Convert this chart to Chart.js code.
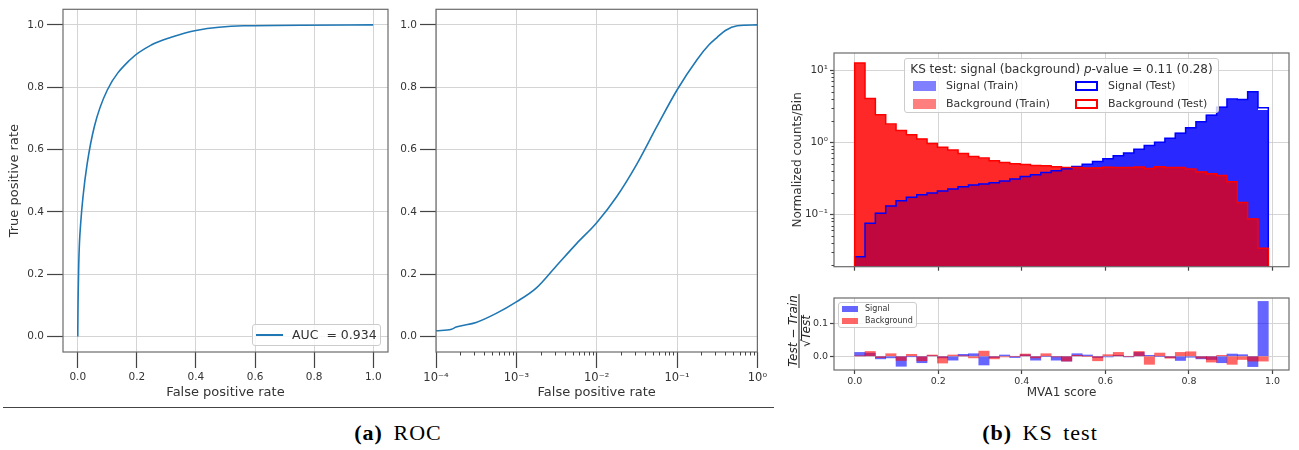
<!DOCTYPE html>
<html>
<head>
<meta charset="utf-8">
<script src="https://cdn.jsdelivr.net/npm/chart.js@4.4.1/dist/chart.umd.min.js"></script>
<style>
  body { margin: 0; width: 1299px; height: 450px; background: #fff; position: relative; overflow: hidden; font-family: 'DejaVu Sans', sans-serif; color: #333; }
  canvas { position: absolute; }
  .abs { position: absolute; white-space: pre; }
  .legend { position: absolute; background: rgba(255,255,255,0.8); border: 1px solid #cccccc; border-radius: 3px; box-sizing: border-box; }
  .caption { position: absolute; top: 420px; font-family: 'Liberation Serif', serif; font-size: 22px; color: #000; letter-spacing: 1px; word-spacing: 4px; transform: translateX(-50%); white-space: nowrap; }
</style>
</head>
<body>
<canvas id="rocLin" width="390" height="400" style="left:0;top:0"></canvas>
<canvas id="rocLog" width="380" height="400" style="left:390px;top:0"></canvas>
<canvas id="ksHist" width="515" height="235" style="left:780px;top:40px"></canvas>
<canvas id="ksRatio" width="515" height="115" style="left:780px;top:285px"></canvas>

<!-- AUC legend -->
<div class="legend" style="left:252px;top:324px;width:129px;height:22px"></div>
<div class="abs" style="left:256px;top:334px;width:27px;height:1.6px;background:#1f77b4"></div>
<div class="abs" style="left:292px;top:326px;font-size:12.5px;line-height:18px">AUC  = 0.934</div>

<!-- KS legend -->
<div class="legend" style="left:904px;top:58px;width:315px;height:55px"></div>
<div class="abs" style="left:904px;top:61px;width:315px;text-align:center;font-size:12px;line-height:16px">KS test: signal (background) <i>p</i>-value = 0.11 (0.28)</div>
<div class="abs" style="left:913px;top:81px;width:23px;height:10px;background:rgba(0,0,255,0.5)"></div>
<div class="abs" style="left:913px;top:98.5px;width:23px;height:10px;background:rgba(255,0,0,0.5)"></div>
<div class="abs" style="left:1075px;top:81px;width:23px;height:10px;border:2px solid #0000ff;box-sizing:border-box;background:#fff"></div>
<div class="abs" style="left:1075px;top:98.5px;width:23px;height:10px;border:2px solid #ff0000;box-sizing:border-box;background:#fff"></div>
<div class="abs" style="left:946px;top:78px;font-size:11px;line-height:16px">Signal (Train)</div>
<div class="abs" style="left:946px;top:95.5px;font-size:11px;line-height:16px">Background (Train)</div>
<div class="abs" style="left:1108px;top:78px;font-size:11px;line-height:16px">Signal (Test)</div>
<div class="abs" style="left:1108px;top:95.5px;font-size:11px;line-height:16px">Background (Test)</div>

<!-- ratio legend -->
<div class="legend" style="left:838px;top:302px;width:79px;height:26px"></div>
<div class="abs" style="left:842px;top:306px;width:16px;height:6px;background:rgba(0,0,255,0.6)"></div>
<div class="abs" style="left:842px;top:317.5px;width:16px;height:6px;background:rgba(255,0,0,0.6)"></div>
<div class="abs" style="left:865px;top:303px;font-size:8px;line-height:12px">Signal</div>
<div class="abs" style="left:865px;top:314.5px;font-size:8px;line-height:12px">Background</div>

<div class="abs" style="left:3px;top:406.5px;width:771px;height:1.3px;background:#444"></div>
<div class="caption" style="left:398px"><b>(a)</b> ROC</div>
<div class="caption" style="left:1040px"><b>(b)</b> KS test</div>

<script>
// ROC curve (false positive rate, true positive rate)
const rocFpr = [0, 1e-4, 1.56e-4, 1.78e-4, 3.16e-4, 5.62e-4, 1e-3, 1.78e-3, 3.16e-3, 5.62e-3, 1e-2,
    1.78e-2, 3.16e-2, 5.62e-2, 0.1, 0.178, 0.25, 0.316, 0.4, 0.562, 1.0];
const rocTpr = [0, 0.018, 0.023, 0.030, 0.045, 0.074, 0.111, 0.156, 0.227, 0.298, 0.365,
    0.449, 0.553, 0.674, 0.791, 0.889, 0.936, 0.960, 0.982, 0.997, 1.0];

const rateTicks = [0, 0.2, 0.4, 0.6, 0.8, 1.0];
const logTicks = [1e-4, 1e-3, 1e-2, 1e-1, 1];
const logTickLabels = ['10⁻⁴', '10⁻³', '10⁻²', '10⁻¹', '10⁰'];

// MVA1 score histograms, 40 bins
const nBins = 40, scoreLo = 0, scoreHi = 0.99;
const sigTrain = [0.0255, 0.0745, 0.105, 0.132, 0.156, 0.173, 0.188, 0.198, 0.212, 0.225,
    0.240, 0.255, 0.265, 0.275, 0.290, 0.310, 0.335, 0.355, 0.380, 0.405,
    0.430, 0.460, 0.495, 0.540, 0.590, 0.650, 0.710, 0.800, 0.900, 1.00,
    1.15, 1.35, 1.60, 1.95, 2.40, 3.10, 3.95, 3.90, 5.10, 2.80];
const sigTest = [0.0258, 0.0750, 0.104, 0.131, 0.155, 0.173, 0.187, 0.198, 0.211, 0.224,
    0.241, 0.256, 0.263, 0.274, 0.291, 0.309, 0.336, 0.353, 0.380, 0.403,
    0.428, 0.462, 0.496, 0.539, 0.589, 0.651, 0.709, 0.803, 0.901, 1.00,
    1.14, 1.33, 1.59, 1.93, 2.37, 3.05, 3.97, 3.91, 5.02, 3.00];
const bkgTrain = [12.6, 4.00, 2.42, 1.78, 1.47, 1.26, 1.12, 0.960, 0.860, 0.780,
    0.700, 0.640, 0.600, 0.555, 0.525, 0.505, 0.490, 0.478, 0.468, 0.458,
    0.450, 0.445, 0.440, 0.445, 0.450, 0.440, 0.445, 0.450, 0.440, 0.455,
    0.450, 0.440, 0.420, 0.390, 0.370, 0.345, 0.290, 0.148, 0.087, 0.034];
const bkgTest = [12.6, 4.03, 2.41, 1.79, 1.46, 1.27, 1.11, 0.962, 0.851, 0.782,
    0.700, 0.637, 0.606, 0.552, 0.524, 0.505, 0.493, 0.476, 0.471, 0.457,
    0.445, 0.446, 0.440, 0.440, 0.452, 0.445, 0.445, 0.455, 0.432, 0.459,
    0.448, 0.445, 0.425, 0.388, 0.365, 0.346, 0.283, 0.146, 0.086, 0.034];
// (Test - Train) / sqrt(Test)
const sigDiff = [0.012, 0.010, -0.008, -0.005, -0.031, -0.001, -0.020, 0.002, -0.005, -0.012,
    0.006, 0.008, -0.027, -0.004, 0.004, -0.004, 0.005, -0.012, 0.000, -0.012,
    -0.015, 0.008, 0.004, -0.004, -0.002, 0.003, -0.002, 0.012, 0.003, 0.000,
    -0.004, -0.013, -0.003, -0.008, -0.010, -0.020, 0.007, 0.005, -0.032, 0.170];
const bkgDiff = [0.001, 0.015, -0.004, 0.008, -0.013, 0.006, -0.014, 0.004, -0.021, 0.004,
    0.001, -0.005, 0.016, -0.008, -0.002, 0.000, 0.007, -0.005, 0.008, -0.002,
    -0.015, 0.003, 0.000, -0.014, 0.005, 0.012, 0.000, 0.015, -0.025, 0.010,
    -0.006, 0.012, 0.014, -0.006, -0.018, 0.003, -0.025, -0.010, -0.015, -0.015];

const scoreTicks = [0, 0.2, 0.4, 0.6, 0.8, 1.0];
const countTicks = [0.1, 1, 10];
const countTickLabels = ['10⁻¹', '10⁰', '10¹'];
const ratioTicks = [0, 0.1];

const tickCol = '#444', gridCol = '#d4d4d4', spineCol = '#6b6b6b', labelCol = '#333';
Chart.defaults.font.family = 'DejaVu Sans';
Chart.defaults.color = labelCol;

const binEdges = [];
for (let i = 0; i <= nBins; i++) binEdges.push(scoreLo + (scoreHi - scoreLo) * i / nBins);
const binCenters = binEdges.slice(0, nBins).map((e, i) => (e + binEdges[i + 1]) / 2);

// histogram outline as explicit corners, so no step mode is needed
function stepPoints(vals, floor) {
    const pts = [{ x: binEdges[0], y: floor }];
    vals.forEach((v, i) => {
        pts.push({ x: binEdges[i], y: v });
        pts.push({ x: binEdges[i + 1], y: v });
    });
    pts.push({ x: binEdges[nBins], y: floor });
    return pts;
}

function axis(o) {
    return {
        type: o.type || 'linear', min: o.min, max: o.max, bounds: 'data', offset: false, z: o.z || 0,
        afterFit: s => { if (s.isHorizontal()) s.height = o.size; else s.width = o.size; },
        afterBuildTicks: s => { s.ticks = o.ticks.map(v => ({ value: v })); },
        ticks: {
            display: o.fmt !== null,
            callback: (v, i) => o.fmt ? o.fmt[i] : v.toFixed(1),
            font: { size: o.fontSize }, color: labelCol, padding: o.pad,
            autoSkip: false, maxRotation: 0, minRotation: 0
        },
        grid: { color: o.gridColor || gridCol, tickColor: tickCol, tickLength: o.tick, tickWidth: 1.2, offset: false },
        border: { display: false },
        title: o.title ? { display: true, text: o.title, font: { size: o.titleSize }, color: labelCol, padding: o.titlePad } : { display: false }
    };
}

const frame = {
    id: 'frame',
    afterDraw(chart) {
        const a = chart.chartArea, ctx = chart.ctx;
        ctx.save();
        ctx.strokeStyle = spineCol;
        ctx.lineWidth = 1.2;
        ctx.strokeRect(a.left, a.top, a.right - a.left, a.bottom - a.top);
        ctx.restore();
    }
};

// short unlabeled ticks between decades on log axes
function minorTicks(axisId, decades, len) {
    return {
        id: 'minor_' + axisId,
        afterDraw(chart) {
            const s = chart.scales[axisId], a = chart.chartArea, ctx = chart.ctx;
            ctx.save();
            ctx.strokeStyle = tickCol;
            ctx.lineWidth = 1;
            ctx.beginPath();
            decades.forEach(d => {
                [2, 3, 4, 5, 6, 7, 8, 9].forEach(m => {
                    const v = m * d;
                    if (v <= s.min || v >= s.max) return;
                    const p = Math.round(s.getPixelForValue(v)) + 0.5;
                    if (s.isHorizontal()) { ctx.moveTo(p, a.bottom); ctx.lineTo(p, a.bottom + len); }
                    else { ctx.moveTo(a.left, p); ctx.lineTo(a.left - len, p); }
                });
            });
            ctx.stroke();
            ctx.restore();
        }
    };
}

const fracTitle = {
    id: 'fracTitle',
    afterDraw(chart) {
        const ctx = chart.ctx;
        ctx.save();
        ctx.translate(20, 46);
        ctx.rotate(-Math.PI / 2);
        ctx.fillStyle = '#222';
        ctx.font = 'italic 12px "DejaVu Sans"';
        ctx.textAlign = 'center';
        ctx.textBaseline = 'alphabetic';
        ctx.fillText('Test − Train', 0, -3);
        ctx.fillRect(-37, -1.5, 74, 1);
        ctx.textBaseline = 'top';
        ctx.fillText('√Test', 0, 1);
        const w = ctx.measureText('√Test').width, ws = ctx.measureText('√').width;
        ctx.fillRect(-w / 2 + ws - 1, 1, w - ws + 1, 0.9);
        ctx.restore();
    }
};

const common = { responsive: false, animation: false, devicePixelRatio: 1 };
const noLegend = { legend: { display: false }, tooltip: { enabled: false } };

// (a) ROC, linear
new Chart(document.getElementById('rocLin'), {
    type: 'line',
    data: {
        datasets: [{
            data: rocFpr.map((x, i) => ({ x, y: rocTpr[i] })),
            borderColor: '#1f77b4', borderWidth: 1.6, pointRadius: 0,
            cubicInterpolationMode: 'monotone', fill: false
        }]
    },
    options: {
        ...common,
        layout: { padding: { top: 5, right: 2 } },
        plugins: noLegend,
        scales: {
            x: axis({ min: -0.05, max: 1.05, size: 48, ticks: rateTicks, fontSize: 10.5, pad: 3, tick: 16,
                title: 'False positive rate', titleSize: 13, titlePad: 0 }),
            y: axis({ min: -0.05, max: 1.05, size: 63, ticks: rateTicks, fontSize: 10.5, pad: 3, tick: 16,
                title: 'True positive rate', titleSize: 13, titlePad: { top: 7, bottom: 0 } })
        }
    },
    plugins: [frame]
});

// (a) ROC, log x
new Chart(document.getElementById('rocLog'), {
    type: 'line',
    data: {
        datasets: [{
            data: rocFpr.map((x, i) => ({ x, y: rocTpr[i] })).filter(p => p.x > 0),
            borderColor: '#1f77b4', borderWidth: 1.6, pointRadius: 0,
            cubicInterpolationMode: 'monotone', fill: false
        }]
    },
    options: {
        ...common,
        layout: { padding: { top: 5, right: 10 } },
        plugins: noLegend,
        scales: {
            x: axis({ type: 'logarithmic', min: 1e-4, max: 1, size: 48, ticks: logTicks, fmt: logTickLabels,
                fontSize: 11.5, pad: 3, tick: 16, title: 'False positive rate', titleSize: 13, titlePad: 0 }),
            y: axis({ min: -0.05, max: 1.05, size: 46, ticks: rateTicks, fontSize: 10.5, pad: 3, tick: 16 })
        }
    },
    plugins: [frame, minorTicks('x', [1e-4, 1e-3, 1e-2, 1e-1], 3.5)]
});

// (b) KS test, score distributions
const histFloor = 1e-3;
const overlap = sigTrain.map((v, i) => Math.min(v, bkgTrain[i]));
new Chart(document.getElementById('ksHist'), {
    type: 'line',
    data: {
        datasets: [
            { label: 'Signal (Train)', data: stepPoints(sigTrain, histFloor), backgroundColor: 'rgb(40,40,255)',
                borderWidth: 0, fill: 'start', order: 5 },
            { label: 'Background (Train)', data: stepPoints(bkgTrain, histFloor), backgroundColor: 'rgb(255,40,40)',
                borderWidth: 0, fill: 'start', order: 4 },
            { label: 'overlap', data: stepPoints(overlap, histFloor), backgroundColor: 'rgb(192,8,62)',
                borderWidth: 0, fill: 'start', order: 3 },
            { label: 'Signal (Test)', data: stepPoints(sigTest, histFloor), borderColor: '#0000ff',
                borderWidth: 1.5, fill: false, order: 2 },
            { label: 'Background (Test)', data: stepPoints(bkgTest, histFloor), borderColor: '#ff0000',
                borderWidth: 1.5, fill: false, order: 1 }
        ]
    },
    options: {
        ...common,
        layout: { padding: { top: 13, right: 6 } },
        plugins: noLegend,
        elements: { point: { radius: 0 }, line: { tension: 0 } },
        scales: {
            x: axis({ min: -0.0495, max: 1.0395, size: 6, ticks: scoreTicks, fmt: null, tick: 4, fontSize: 9.5, pad: 2,
                gridColor: 'rgba(190,190,190,0.65)', z: 1 }),
            y: axis({ type: 'logarithmic', min: 0.0188, max: 17.3, size: 54, ticks: countTicks, fmt: countTickLabels,
                fontSize: 10.5, pad: 2, tick: 4, gridColor: 'rgba(190,190,190,0.65)', z: 1,
                title: 'Normalized counts/Bin', titleSize: 12, titlePad: { top: 11, bottom: 0 } })
        }
    },
    plugins: [frame, minorTicks('y', [0.01, 0.1, 1, 10], 2.5)]
});

// (b) KS test, residuals
new Chart(document.getElementById('ksRatio'), {
    type: 'bar',
    data: {
        datasets: [
            { label: 'Background', data: binCenters.map((x, i) => ({ x, y: bkgDiff[i] })),
                backgroundColor: 'rgba(255,0,0,0.6)', order: 0 },
            { label: 'Signal', data: binCenters.map((x, i) => ({ x, y: sigDiff[i] })),
                backgroundColor: 'rgba(0,0,255,0.6)', order: 1 }
        ]
    },
    options: {
        ...common,
        layout: { padding: { top: 13, right: 6 } },
        plugins: noLegend,
        datasets: { bar: { grouped: false, barPercentage: 1, categoryPercentage: 1, borderWidth: 0 } },
        scales: {
            x: axis({ min: -0.0495, max: 1.0395, size: 30, ticks: scoreTicks, fontSize: 9.5, pad: 2, tick: 4,
                title: 'MVA1 score', titleSize: 12, titlePad: 0 }),
            y: axis({ min: -0.0425, max: 0.1805, size: 54, ticks: ratioTicks, fontSize: 9.5, pad: 2, tick: 4 })
        }
    },
    plugins: [frame, fracTitle]
});
</script>
</body>
</html>
